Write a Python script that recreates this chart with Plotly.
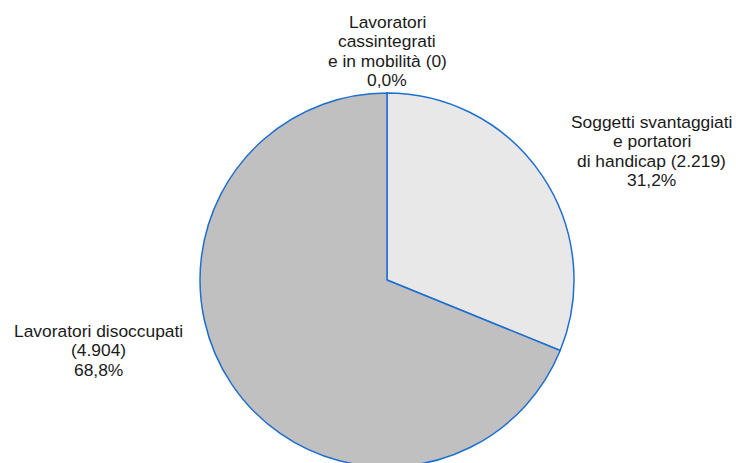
import plotly.graph_objects as go

categories = ["Lavoratori cassintegrati e in mobilità", "Soggetti svantaggiati e portatori di handicap", "Lavoratori disoccupati"]
label_lines = [["Lavoratori", "cassintegrati", "e in mobilità"], ["Soggetti svantaggiati", "e portatori", "di handicap"], ["Lavoratori disoccupati", ""]]
values = [0, 2219, 4904]
colors = ["#d9d9d9", "#e8e8e8", "#c0c0c0"]

total = sum(values)

def it_int(v):
    return f"{v:,}".replace(",", ".")

def it_pct(v):
    return f"{v:.1f}%".replace(".", ",")

W, H = 736, 467
L, R, T = 38, 0, 93
pw, ph = W - L - R, H - T

fig = go.Figure(go.Pie(
    labels=categories, values=values, sort=False, direction="clockwise", rotation=0,
    marker=dict(colors=colors, line=dict(color="#1f6fd0", width=1.5)),
    textinfo="none", hoverinfo="label+value+percent", showlegend=False,
))

FS = 17.4
LINE = 19.4
# (center x, first baseline y) in screen px
label_pos = [(387, 28), (651.5, 128), (98.5, 337)]
anns = []
for i, (lines, v) in enumerate(zip(label_lines, values)):
    ls = list(lines)
    if ls[-1] == "":
        ls[-1] = f"({it_int(v)})"
    else:
        ls[-1] = ls[-1] + f" ({it_int(v)})"
    ls.append(it_pct(100 * v / total))
    cx, by = label_pos[i]
    for j, t in enumerate(ls):
        sx = cx
        sy = by + j * LINE - 0.35 * FS
        anns.append(dict(text=t, x=(sx - L) / pw, y=1 - (sy - T) / ph,
                         xref="paper", yref="paper", xanchor="center", yanchor="middle",
                         showarrow=False, align="center",
                         font=dict(size=FS, color="#1a1a1a", family="Liberation Sans, Arial")))

fig.update_layout(
    width=W, height=H,
    margin=dict(l=L, r=R, t=T, b=0),
    paper_bgcolor="white", plot_bgcolor="white",
    annotations=anns,
)
fig.write_html("out.html", config={"displayModeBar": False},
               post_script="document.body.style.margin='0';document.body.style.overflow='hidden';")
